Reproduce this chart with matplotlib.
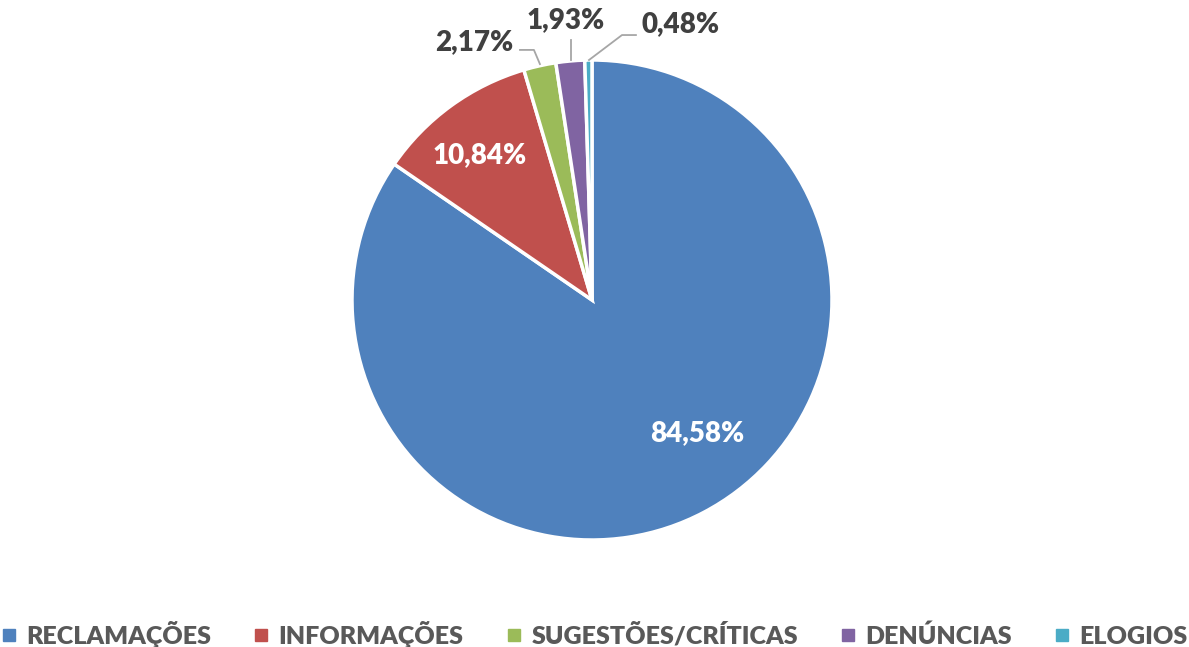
import matplotlib
matplotlib.use("Agg")
import matplotlib.pyplot as plt
import numpy as np
from matplotlib.lines import Line2D

categories = ["RECLAMAÇÕES", "INFORMAÇÕES", "SUGESTÕES/CRÍTICAS", "DENÚNCIAS", "ELOGIOS"]
values = [84.58, 10.84, 2.17, 1.93, 0.48]
labels = ["84,58%", "10,84%", "2,17%", "1,93%", "0,48%"]
colors = ["#4F81BD", "#C0504D", "#9BBB59", "#8064A2", "#4BACC6"]

plt.rcParams['font.family'] = ['Lato', 'DejaVu Sans']

W, H = 1189, 647
fig = plt.figure(figsize=(W / 100, H / 100), dpi=100)
cx, cy, r = 592, 300, 240
ax = fig.add_axes([(cx - r) / W, (H - cy - r) / H, 2 * r / W, 2 * r / H])

wedges, _ = ax.pie(values, colors=colors, startangle=90, counterclock=False, radius=1,
                   wedgeprops=dict(edgecolor='white', linewidth=2.5))
ax.set_aspect('auto')
ax.set_xlim(-1, 1)
ax.set_ylim(-1, 1)
ax.axis('off')

# inside labels
inside = {0: (0.4375, -0.554), 1: (-0.467, 0.604)}
for i, (x, y) in inside.items():
    ax.text(x, y, labels[i], ha='center', va='center', color='white',
            fontsize=20, fontweight='heavy')

# outside labels with leader lines
outside = {
    2: ((-0.49, 1.075), [(-0.217, 0.983), (-0.242, 1.042), (-0.30, 1.042)]),
    3: ((-0.108, 1.167), [(-0.0875, 1.0), (-0.0875, 1.083)]),
    4: ((0.367, 1.15), [(-0.0125, 1.0), (0.125, 1.104), (0.183, 1.104)]),
}
for i, ((x, y), pts) in outside.items():
    ax.text(x, y, labels[i], ha='center', va='center', color='#404040',
            fontsize=20, fontweight='heavy', clip_on=False)
    xs, ys = zip(*pts)
    ax.plot(xs, ys, color='#A6A6A6', lw=1.3, clip_on=False)

handles = [Line2D([0], [0], marker='s', linestyle='none', markersize=8,
                  markerfacecolor=c, markeredgecolor=c) for c in colors]
fig.legend(handles, categories, loc='lower center', ncol=5, frameon=False,
           bbox_to_anchor=(0.5, -0.036), handlelength=0.6, handletextpad=0.4,
           columnspacing=1.7,
           prop=dict(family=['Lato', 'DejaVu Sans'], size=18, weight='heavy'),
           labelcolor='#595959')

fig.savefig("out.png", dpi=100)
